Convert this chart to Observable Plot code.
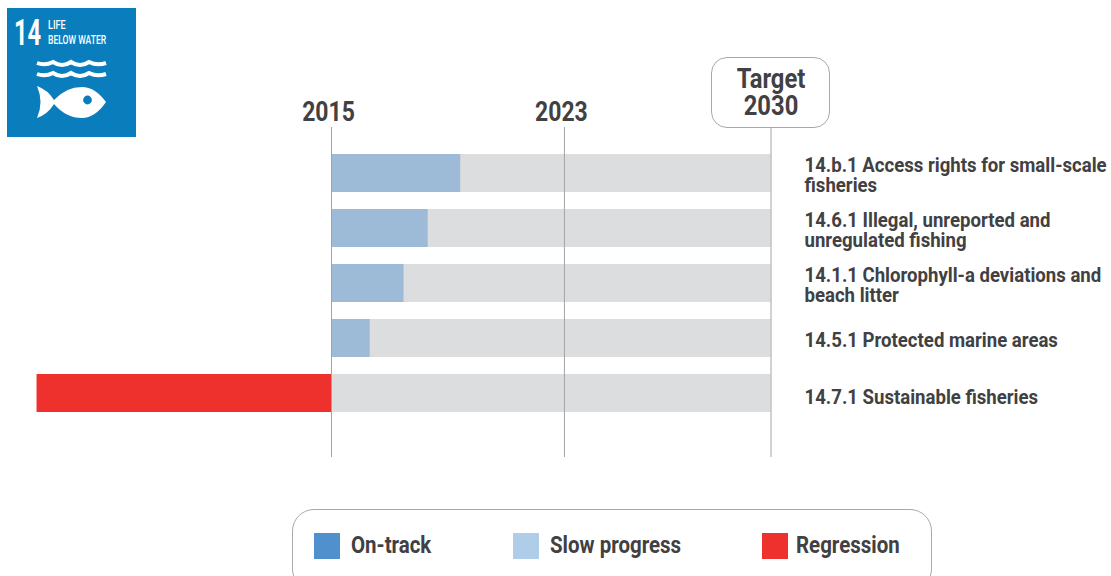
<!DOCTYPE html>
<html>
<head>
<meta charset="utf-8">
<script src="https://cdn.jsdelivr.net/npm/d3@7"></script>
<script src="https://cdn.jsdelivr.net/npm/@observablehq/plot@0.6"></script>
<style>
  html, body { margin: 0; padding: 0; background: #fff; overflow: hidden; }
  #page { position: relative; width: 1111px; height: 576px; overflow: hidden; font-family: Roboto, sans-serif; color: #414042; }
  #page svg { display: block; }
  #plot { position: absolute; left: 0; top: 0; }
  #logo { position: absolute; left: 7px; top: 8px; width: 129px; height: 129px; }
  #target { position: absolute; left: 711px; top: 57px; width: 117px; height: 69px; border: 1px solid #a7a9ac; border-radius: 16px; background: #fff; }
  #legend { position: absolute; left: 292px; top: 509px; width: 638px; height: 80px; border: 1px solid #a7a9ac; border-radius: 22px; background: #fff; }
  .sw { position: absolute; top: 23px; width: 26px; height: 26px; }
  .lt { position: absolute; top: 20px; font-weight: 700; font-size: 23px; line-height: 32px; white-space: nowrap; transform: scaleX(0.89); transform-origin: left center; }
</style>
</head>
<body>
<div id="page">
  <div id="target"></div>
  <div id="plot"></div>
  <svg id="logo" viewBox="7 8 129 129" xmlns="http://www.w3.org/2000/svg">
    <rect x="7" y="8" width="129" height="129" fill="#0a7dbd"></rect>
    <text transform="translate(14 45) scale(0.64 1)" fill="#fff" font-family="Roboto" font-weight="700" font-size="37">14</text>
    <text transform="translate(48 29) scale(0.7 1)" fill="#fff" font-family="Roboto" font-weight="500" font-size="13">LIFE</text>
    <text transform="translate(48 44) scale(0.66 1)" fill="#fff" font-family="Roboto" font-weight="500" font-size="13">BELOW WATER</text>
    <path d="M37 63 Q45 66 53 62 Q62 68 71 62 Q80 68 89 62 Q97 66 106 63" fill="none" stroke="#fff" stroke-width="4"></path>
    <path d="M37 74 Q45 77 53 73 Q62 79 71 73 Q80 79 89 73 Q97 77 106 74" fill="none" stroke="#fff" stroke-width="4"></path>
    <path d="M37 86 Q48 90 54 100 Q66 87 82 87 Q95 87 106 102 Q95 118 82 118 Q66 118 54 104 Q48 114 37 118 Q44 102 37 86 Z" fill="#fff"></path>
    <circle cx="87.5" cy="100" r="4.4" fill="#0a7dbd"></circle>
  </svg>
  <div id="legend"></div>
</div>
<script>
const indicators = [
  "14.b.1 Access rights for small-scale\nfisheries",
  "14.6.1 Illegal, unreported and\nunregulated fishing",
  "14.1.1 Chlorophyll-a deviations and\nbeach litter",
  "14.5.1 Protected marine areas",
  "14.7.1 Sustainable fisheries"
];
const progress = [29.4, 22, 16.5, 8.8, -67];
const status = ["Slow progress", "Slow progress", "Slow progress", "Slow progress", "Regression"];
const fullTarget = [100, 100, 100, 100, 100];
const milestoneValues = [0, 53, 100];
const milestoneLabels = ["2015", "2023", "Target\n2030"];
const legendLabels = ["On-track", "Slow progress", "Regression"];
const legendColors = ["#4f90cd", "#afcde9", "#ee312c"];
const legendSwatchX = [22, 221, 470];
const legendTextX = [59, 258, 504];

const rows = indicators.map((name, i) => ({name, value: progress[i], status: status[i], full: fullTarget[i]}));
const stones = milestoneValues.map((v, i) => ({v, label: milestoneLabels[i]}));
const ink = "#414042";
const font = "Roboto, sans-serif";

const chart = Plot.plot({
  width: 1111,
  height: 500,
  marginTop: 127,
  marginBottom: 43,
  marginLeft: 0,
  marginRight: 0,
  style: {background: "transparent", fontFamily: font},
  x: {domain: [0, 100], range: [331, 770.5], axis: null},
  y: {type: "band", domain: indicators, paddingInner: 0.309, paddingOuter: 0.6545, align: 0.375, axis: null},
  color: {domain: ["Slow progress", "Regression"], range: ["#9dbad6", "#ee312c"]},
  marks: [
    Plot.barX(rows, {x1: 0, x2: "full", y: "name", fill: "#dcddde"}),
    Plot.barX(rows, {x1: 0, x2: "value", y: "name", fill: "status"}),
    Plot.ruleX(stones, {x: "v", stroke: "#a3a4a6", strokeWidth: 1}),
    Plot.text(stones.slice(0, 2), {x: "v", text: "label", frameAnchor: "top", dy: -7, dx: -3, lineAnchor: "bottom", fontSize: 28, fontWeight: 700, fill: ink, className: "tick-label"}),
    Plot.text(stones.slice(2), {x: "v", text: "label", frameAnchor: "top", dy: -13, lineAnchor: "bottom", fontSize: 27, fontWeight: 700, lineHeight: 1, fill: ink, className: "target-label"}),
    Plot.text(rows.slice(0, 4), {x: 100, y: "name", text: "name", textAnchor: "start", dx: 33.5, dy: 2, fontSize: 20, fontWeight: 700, lineHeight: 1, fill: ink, className: "row-label"}),
    Plot.text(rows.slice(4), {x: 100, y: "name", text: "name", textAnchor: "start", dx: 33.5, dy: 4, fontSize: 20, fontWeight: 700, lineHeight: 1, fill: ink, className: "row-label"})
  ]
});
document.getElementById("plot").appendChild(chart);

// The reference uses a condensed face: squeeze the installed one horizontally about its anchor.
function condense(selector, factor) {
  chart.querySelectorAll(selector + " text").forEach((t) => {
    const base = t.getAttribute("transform") || "";
    t.setAttribute("transform", base + " scale(" + factor + ",1)");
  });
}
condense(".tick-label", 0.82);
condense(".target-label", 0.88);
condense(".row-label", 0.93);

const legend = document.getElementById("legend");
legendLabels.forEach((label, i) => {
  const s = document.createElement("div");
  s.className = "sw";
  s.style.left = legendSwatchX[i] - 1 + "px";
  s.style.background = legendColors[i];
  legend.appendChild(s);
  const t = document.createElement("div");
  t.className = "lt";
  t.style.left = legendTextX[i] - 1 + "px";
  t.textContent = label;
  legend.appendChild(t);
});
</script>
</body>
</html>
